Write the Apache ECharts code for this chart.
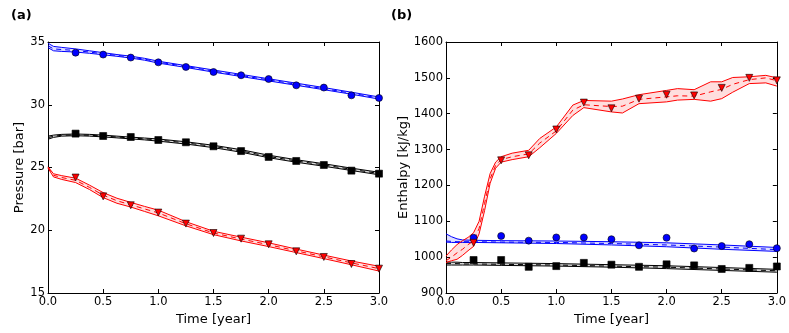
<!DOCTYPE html>
<html>
<head>
<meta charset="utf-8">
<script src="https://cdn.jsdelivr.net/npm/echarts@6/dist/echarts.min.js"></script>
<style>
html,body{margin:0;padding:0;background:#fff}
#main{width:789px;height:333px}
</style>
</head>
<body>
<div id="main"></div>
<script>
// sample times for the markers (both panels)
var tObs = [0.25, 0.5, 0.75, 1.0, 1.25, 1.5, 1.75, 2.0, 2.25, 2.5, 2.75, 3.0];

// (a) pressure, band grid
var tA = [0, 0.05, 0.125, 0.25, 0.375, 0.5, 0.625, 0.75, 0.875, 1.0, 1.25, 1.5, 1.75, 2.0, 2.25, 2.5, 2.75, 3.0];
var pBlueUp   = [34.9, 34.65, 34.57, 34.45, 34.3, 34.15, 34.0, 33.87, 33.7, 33.47, 33.12, 32.77, 32.42, 32.07, 31.72, 31.37, 31.0, 30.62];
var pBlueLo   = [34.55, 34.3, 34.25, 34.2, 34.1, 33.98, 33.86, 33.72, 33.55, 33.32, 32.97, 32.6, 32.25, 31.9, 31.55, 31.2, 30.84, 30.45];
var pBlueMean = [34.7, 34.45, 34.4, 34.32, 34.2, 34.06, 33.93, 33.8, 33.63, 33.4, 33.05, 32.68, 32.33, 31.98, 31.63, 31.28, 30.92, 30.53];
var pBlackUp   = [27.5, 27.58, 27.64, 27.67, 27.64, 27.58, 27.5, 27.42, 27.35, 27.27, 27.05, 26.77, 26.42, 25.98, 25.62, 25.3, 24.95, 24.62];
var pBlackLo   = [27.25, 27.4, 27.5, 27.53, 27.5, 27.44, 27.36, 27.28, 27.2, 27.1, 26.87, 26.58, 26.22, 25.78, 25.42, 25.1, 24.76, 24.42];
var pBlackMean = [27.38, 27.49, 27.57, 27.6, 27.57, 27.51, 27.43, 27.35, 27.28, 27.19, 26.96, 26.68, 26.32, 25.88, 25.52, 25.2, 24.86, 24.52];
var pRedUp   = [25.05, 24.5, 24.35, 24.15, 23.6, 23.0, 22.55, 22.22, 21.9, 21.6, 20.68, 19.92, 19.45, 19.0, 18.5, 18.02, 17.55, 17.13];
var pRedLo   = [24.95, 24.25, 24.05, 23.8, 23.25, 22.6, 22.15, 21.85, 21.5, 21.15, 20.35, 19.65, 19.15, 18.7, 18.22, 17.74, 17.25, 16.75];
var pRedMean = [25.0, 24.38, 24.2, 23.98, 23.42, 22.8, 22.35, 22.03, 21.7, 21.38, 20.52, 19.78, 19.3, 18.85, 18.36, 17.88, 17.4, 16.94];
var pBlueObs  = [34.15, 34.0, 33.76, 33.38, 33.01, 32.61, 32.35, 32.05, 31.55, 31.37, 30.75, 30.54];
var pBlackObs = [27.7, 27.51, 27.43, 27.19, 27.01, 26.69, 26.31, 25.84, 25.52, 25.2, 24.75, 24.51];
var pRedObs   = [24.2, 22.7, 21.99, 21.41, 20.53, 19.78, 19.33, 18.88, 18.32, 17.87, 17.31, 16.94];

// (b) enthalpy, red band grid
var tB = [0, 0.05, 0.1, 0.15, 0.2, 0.25, 0.3, 0.35, 0.4, 0.45, 0.5, 0.6, 0.75, 0.85, 1.0, 1.15, 1.25, 1.5, 1.6, 1.75, 2.0, 2.1, 2.25, 2.4, 2.5, 2.6, 2.75, 2.9, 3.0];
var hRedUp   = [1003, 1020, 1035, 1046, 1055, 1068, 1100, 1170, 1233, 1265, 1280, 1290, 1298, 1331, 1363, 1424, 1437, 1435, 1441, 1453, 1465, 1470, 1467, 1489, 1489, 1501, 1503, 1507, 1500];
var hRedLo   = [985, 990, 994, 1005, 1018, 1030, 1065, 1130, 1206, 1248, 1265, 1272, 1280, 1305, 1345, 1395, 1417, 1405, 1402, 1428, 1433, 1438, 1440, 1435, 1442, 1460, 1484, 1486, 1477];
var hRedMean = [990, 1000, 1012, 1022, 1035, 1045, 1080, 1150, 1218, 1256, 1272, 1280, 1288, 1318, 1352, 1410, 1425, 1420, 1421, 1440, 1447, 1450, 1449, 1461, 1468, 1482, 1495, 1500, 1492];
// (b) blue and black band grid
var tC = [0, 0.05, 0.1, 0.15, 0.25, 0.5, 1.0, 1.5, 2.0, 2.5, 3.0];
var hBlueUp   = [1065, 1057, 1051, 1048, 1047, 1046, 1045, 1043, 1040, 1034, 1027];
var hBlueLo   = [1042, 1041, 1041, 1041, 1041, 1040, 1038, 1034, 1029, 1022, 1016];
var hBlueMean = [1045, 1044, 1043, 1043, 1043, 1042, 1041, 1038, 1034, 1028, 1021];
var hBlackUp   = [986, 986, 986, 985, 985, 984, 982, 979, 976, 971, 966];
var hBlackLo   = [978, 978, 978, 978, 978, 977, 975, 972, 968, 963, 958];
var hBlackMean = [982, 982, 982, 981, 981, 980, 978, 975, 972, 967, 962];
var hBlueObs  = [1054, 1059, 1046, 1055, 1055, 1050, 1033, 1054, 1024, 1031, 1036, 1025];
var hBlackObs = [992, 992, 973, 975, 984, 979, 973, 980, 977, 967, 970, 974];
var hRedObs   = [1040, 1270, 1284, 1356, 1431, 1415, 1442, 1453, 1451, 1472, 1500, 1493];

var FONT = 'DejaVu Sans';

function pairs(xs, ys) {
    return xs.map(function (x, i) { return [x, ys[i]]; });
}

//band: fill polygon + upper/lower solid + dashed mean
function band(xs, up, lo, mean, color, fill, ax) {
    return [{
        type: 'custom',
        xAxisIndex: ax, yAxisIndex: ax,
        clip: true,
        silent: true,
        z: 1,
        data: xs.map(function (x, i) { return [x, lo[i], up[i]]; }),
        encode: {x: 0, y: [1, 2]},
        renderItem: function (params, api) {
            if (params.dataIndex !== 0) return;
            var pts = [], i;
            for (i = 0; i < xs.length; i++) pts.push(api.coord([xs[i], up[i]]));
            for (i = xs.length - 1; i >= 0; i--) pts.push(api.coord([xs[i], lo[i]]));
            return {type: 'polygon', shape: {points: pts}, style: {fill: fill}};
        }
    }, {
        type: 'line', xAxisIndex: ax, yAxisIndex: ax, z: 2,
        data: pairs(xs, up), symbol: 'none', silent: true,
        lineStyle: {color: color, width: 1}
    }, {
        type: 'line', xAxisIndex: ax, yAxisIndex: ax, z: 2,
        data: pairs(xs, lo), symbol: 'none', silent: true,
        lineStyle: {color: color, width: 1}
    }, {
        type: 'line', xAxisIndex: ax, yAxisIndex: ax, z: 2,
        data: pairs(xs, mean), symbol: 'none', silent: true,
        lineStyle: {color: color, width: 1, type: [5, 4]}
    }];
}

function marks(ys, color, symbol, size, rot, ax) {
    return {
        type: 'scatter', xAxisIndex: ax, yAxisIndex: ax, z: 5,
        data: pairs(tObs, ys),
        symbol: symbol, symbolSize: size, symbolRotate: rot || 0,
        itemStyle: {color: color, borderColor: '#000', borderWidth: 0.6, opacity: 1}
    };
}

function xAx(grid, pos, labels) {
    return {
        type: 'value', gridIndex: grid, position: pos,
        min: 0, max: 3, interval: 0.5,
        axisLine: {show: true, onZero: false, lineStyle: {color: '#000', width: 1}},
        axisTick: {show: true, inside: true, length: 4, lineStyle: {color: '#000'}},
        axisLabel: {show: labels, color: '#000', fontFamily: FONT, fontSize: 11.5, margin: 3,
            formatter: function (v) { return v.toFixed(1); }},
        splitLine: {show: false},
        name: labels ? 'Time [year]' : '', nameLocation: 'middle', nameGap: 20,
        nameTextStyle: {color: '#000', fontFamily: FONT, fontSize: 13}
    };
}

function yAx(grid, pos, min, max, step, name, gap) {
    var lab = pos === 'left';
    return {
        type: 'value', gridIndex: grid, position: pos,
        min: min, max: max, interval: step,
        axisLine: {show: true, onZero: false, lineStyle: {color: '#000', width: 1}},
        axisTick: {show: true, inside: true, length: 4, lineStyle: {color: '#000'}},
        axisLabel: {show: lab, color: '#000', fontFamily: FONT, fontSize: 11.5, margin: 3,
            formatter: function (v) { return String(v); }},
        splitLine: {show: false},
        name: lab ? name : '', nameLocation: 'middle', nameGap: gap,
        nameTextStyle: {color: '#000', fontFamily: FONT, fontSize: 13}
    };
}

var chart = echarts.init(document.getElementById('main'), null, {renderer: 'canvas'});

var series = [].concat(
    band(tA, pBlackUp, pBlackLo, pBlackMean, '#000000', 'rgba(0,0,0,0.15)', 0),
    band(tA, pRedUp, pRedLo, pRedMean, '#ff0000', 'rgba(255,0,0,0.13)', 0),
    band(tA, pBlueUp, pBlueLo, pBlueMean, '#0000ff', 'rgba(0,0,255,0.13)', 0),
    band(tC, hBlackUp, hBlackLo, hBlackMean, '#000000', 'rgba(0,0,0,0.15)', 2),
    band(tC, hBlueUp, hBlueLo, hBlueMean, '#0000ff', 'rgba(0,0,255,0.13)', 2),
    band(tB, hRedUp, hRedLo, hRedMean, '#ff0000', 'rgba(255,0,0,0.13)', 2),
    [
        marks(pBlueObs, '#0000ff', 'circle', 7, 0, 0),
        marks(pBlackObs, '#000000', 'rect', 7, 0, 0),
        marks(pRedObs, '#ff0000', 'triangle', 7, 180, 0),
        marks(hBlueObs, '#0000ff', 'circle', 7, 0, 2),
        marks(hBlackObs, '#000000', 'rect', 7, 0, 2),
        marks(hRedObs, '#ff0000', 'triangle', 7, 180, 2)
    ]
);

var option = {
    animation: false,
    backgroundColor: '#fff',
    title: [
        {text: '(a)', left: 6, top: 4, textStyle: {fontFamily: FONT, fontSize: 13, fontWeight: 'bold', color: '#000'}},
        {text: '(b)', left: 386, top: 4, textStyle: {fontFamily: FONT, fontSize: 13, fontWeight: 'bold', color: '#000'}}
    ],
    grid: [
        {left: 48, right: 410, top: 42, bottom: 40},
        {left: 446, right: 11, top: 42, bottom: 40}
    ],
    xAxis: [xAx(0, 'bottom', true), xAx(0, 'top', false), xAx(1, 'bottom', true), xAx(1, 'top', false)],
    yAxis: [
        yAx(0, 'left', 15, 35, 5, 'Pressure [bar]', 18),
        yAx(0, 'right', 15, 35, 5, '', 0),
        yAx(1, 'left', 900, 1600, 100, 'Enthalpy [kJ/kg]', 34),
        yAx(1, 'right', 900, 1600, 100, '', 0)
    ],
    series: series
};
chart.setOption(option);
</script>
</body>
</html>
